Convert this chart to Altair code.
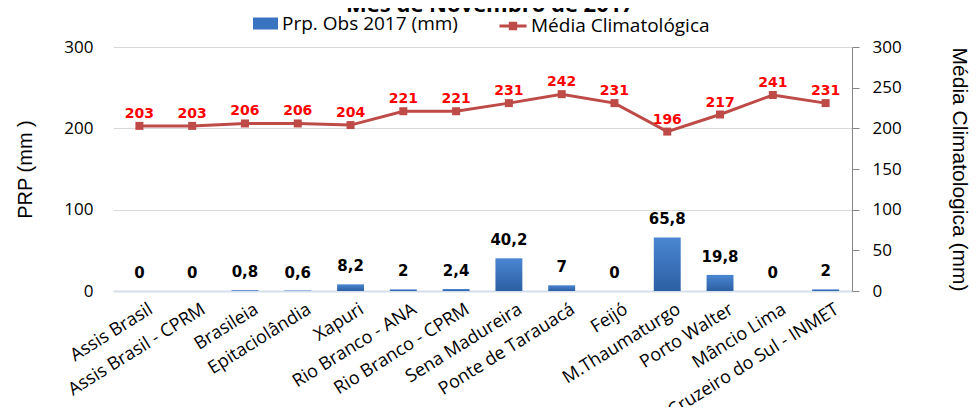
import altair as alt
import pandas as pd

estacoes = ["Assis Brasil", "Assis Brasil - CPRM", "Brasileia", "Epitaciolândia", "Xapuri",
            "Rio Branco - ANA", "Rio Branco - CPRM", "Sena Madureira", "Ponte de Tarauacá",
            "Feijó", "M.Thaumaturgo", "Porto Walter", "Mâncio Lima", "Cruzeiro do Sul - INMET"]
prp_obs = [0, 0, 0.8, 0.6, 8.2, 2, 2.4, 40.2, 7, 0, 65.8, 19.8, 0, 2]
media_clim = [203, 203, 206, 206, 204, 221, 221, 231, 242, 231, 196, 217, 241, 231]
serie_obs = "Prp. Obs 2017 (mm)"
serie_media = "Média Climatológica"
titulo = "Mês de Novembro de 2017"

df = pd.DataFrame({
    "estacao": estacoes,
    "obs": prp_obs,
    "media": media_clim,
    "obs_label": [f"{v:g}".replace(".", ",") for v in prp_obs],
    "serie_b": serie_obs,
    "serie_m": serie_media,
})

LABEL_FONT = "Open Sans"

x = alt.X(
    "estacao:N", sort=estacoes, title=None,
    scale=alt.Scale(paddingInner=0.49, paddingOuter=0.245),
    axis=alt.Axis(labelAngle=-32, labelAlign="right", labelBaseline="top",
                  labelFont=LABEL_FONT, labelFontSize=18, labelColor="#000",
                  labelPadding=9, labelOffset=7, ticks=False,
                  domainColor="#d5dfec", domainWidth=2,
                  labelLimit=400, labelOverlap=False),
)

yL = alt.Y(
    "obs:Q",
    scale=alt.Scale(domain=[0, 300], nice=False),
    axis=alt.Axis(values=[0, 100, 200, 300], grid=True, gridColor="#d9d9d9",
                  domain=False, ticks=False, labelPadding=20,
                  labelFont=LABEL_FONT, labelFontSize=17, labelColor="#000",
                  title="PRP (mm )", titleFont="Liberation Sans", titleFontSize=20,
                  titleFontWeight="normal", titleColor="#000", titlePadding=28),
)

yR = alt.Y(
    "media:Q",
    scale=alt.Scale(domain=[0, 300], nice=False),
    axis=alt.Axis(orient="right", values=[0, 50, 100, 150, 200, 250, 300], grid=False,
                  domainColor="#868686", tickColor="#868686", tickSize=7,
                  labelPadding=13, labelFont=LABEL_FONT, labelFontSize=17, labelColor="#000",
                  title="Média Climatologica (mm)", titleFont="Liberation Sans",
                  titleFontSize=21, titleFontWeight="normal", titleColor="#000",
                  titlePadding=47),
)

gradient = alt.LinearGradient(
    gradient="linear",
    stops=[alt.GradientStop(color="#4a86d2", offset=0),
           alt.GradientStop(color="#2c5fa3", offset=1)],
    x1=0, x2=0, y1=0, y2=1,
)

base = alt.Chart(df)

bars = base.mark_bar(fill=gradient).encode(
    x=x, y=yL,
    color=alt.Color("serie_b:N",
                    scale=alt.Scale(domain=[serie_obs], range=["#3a74c0"]),
                    legend=alt.Legend(orient="none", legendX=140, legendY=-36,
                                      direction="horizontal", title=None,
                                      symbolType="M-1,-0.48H1V0.48H-1Z", symbolSize=625,
                                      symbolStrokeWidth=0, labelLimit=400,
                                      labelFont=LABEL_FONT, labelFontSize=19,
                                      labelColor="#000", labelOffset=4, padding=0)),
)
bar_text = base.mark_text(font="DejaVu Sans", fontWeight="bold", fontSize=15,
                          color="#000", dy=-13, baseline="alphabetic").encode(
    x=x, y=yL, text="obs_label:N")

line = base.mark_line(strokeWidth=3).encode(
    x=x, y=yR,
    stroke=alt.Stroke("serie_m:N",
                      scale=alt.Scale(domain=[serie_media], range=["#be4b48"]),
                      legend=alt.Legend(orient="none", legendX=385, legendY=-36,
                                        direction="horizontal", title=None,
                                        symbolType="M-1,0H1M-0.2,-0.2H0.2V0.2H-0.2Z",
                                        symbolSize=729, symbolStrokeWidth=3,
                                        symbolFillColor="#be4b48", labelLimit=400,
                                        labelFont=LABEL_FONT, labelFontSize=19,
                                        labelColor="#000", labelOffset=3, padding=0)),
)
points = base.mark_square(size=64, color="#be4b48", opacity=1).encode(x=x, y=yR)
line_text = base.mark_text(font="DejaVu Sans", fontWeight="bold", fontSize=14,
                           color="#ff0000", dy=-8, baseline="alphabetic").encode(
    x=x, y=yR, text="media:Q")

title_layer = alt.Chart(pd.DataFrame({"t": [titulo]})).mark_text(
    font=LABEL_FONT, fontWeight="bold", fontSize=22, align="center",
    baseline="alphabetic", color="#000").encode(
    x=alt.value(377), y=alt.value(-35), text="t:N")

chart = alt.layer(
    alt.layer(bars, bar_text),
    alt.layer(line, points, line_text),
    title_layer,
).resolve_scale(y="independent").properties(
    width=739, height=244,
    autosize=alt.AutoSizeParams(type="none"),
    padding={"left": 105, "top": 39, "right": 117, "bottom": 116},
    background="white",
).configure_view(stroke=None)

chart.save("out.html", embed_options={"renderer": "svg", "actions": False})
